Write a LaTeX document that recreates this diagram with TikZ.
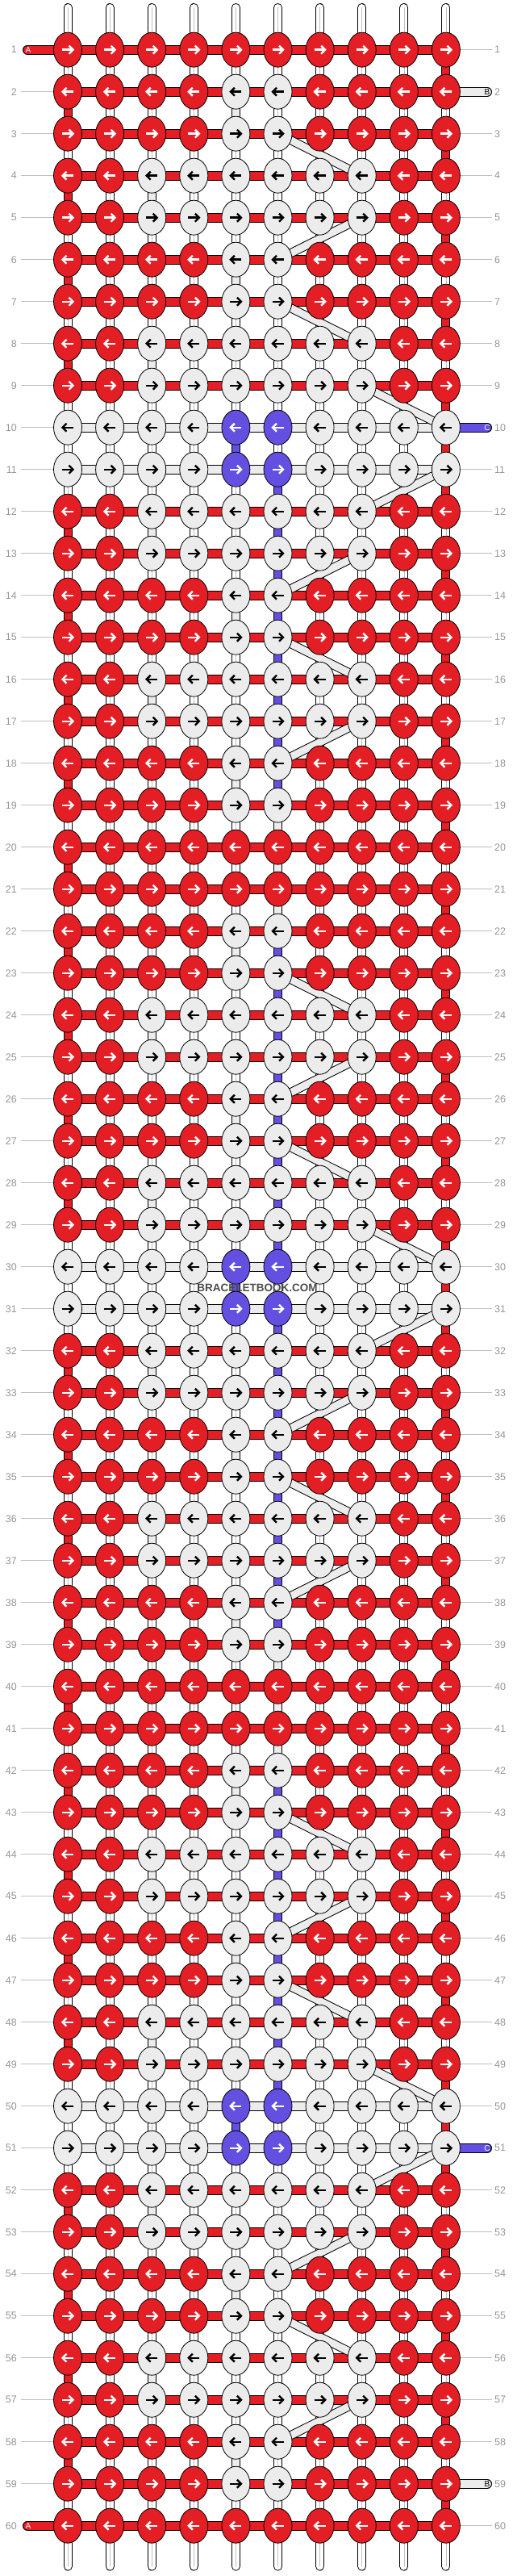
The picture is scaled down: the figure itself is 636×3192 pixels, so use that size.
\documentclass[tikz,border=0pt]{standalone}
\usepackage{fontspec}
\setmainfont{Liberation Sans}
\usetikzlibrary{shapes.geometric,backgrounds,positioning}

\definecolor{strA}{RGB}{228,30,37}
\definecolor{strB}{RGB}{236,236,236}
\definecolor{strC}{RGB}{100,80,224}
\definecolor{rowgray}{RGB}{150,150,150}

\def\patRed{A,A,A,A,A,A,A,A,A,A}
\def\patMid{A,A,A,A,B,B,A,A,A,A}
\def\patWide{A,A,B,B,B,B,B,B,A,A}
\def\patBlue{B,B,B,B,C,C,B,B,B,B}

\begin{document}
\begin{tikzpicture}[x=1pt, y=-1pt,
  knot/.style={ellipse, draw=black, line width=0.8pt, minimum width=35pt, minimum height=43pt, inner sep=0pt},
  kA/.style={fill=strA}, kB/.style={fill=strB}, kC/.style={fill=strC},
  arA/.style={white}, arB/.style={black}, arC/.style={white},
  karrow/.pic={\draw[line width=2.4pt] (-7,0) -- (6,0); \draw[line width=2.4pt] (1.5,-5) -- (6.5,0) -- (1.5,5);},
  band/.style={draw=black, line width=12pt, line cap=round, postaction={draw=#1, line width=10pt}},
  strand/.style={draw=black, line width=11pt, line cap=round, postaction={draw=#1, line width=9pt}},
  seg0/.style={strand=white, postaction={draw=black!25, line width=0.6pt}},
  seg1/.style={strand=strA}, seg2/.style={strand=strB}, seg3/.style={strand=strC},
  hb0/.style={band=strA}, hb1/.style={band=strB},
  rowline/.style={draw=black!25, line width=0.8pt},
  rownum/.style={text=rowgray, font=\fontsize{12.5}{12.5}\selectfont},
  endlabel/.style={font=\fontsize{10}{10}\selectfont, inner sep=0pt}]
\useasboundingbox (0,0) rectangle (636,3192);

% knots, three blocks of twenty rows
\foreach \blk in {0,20,40}{
  \foreach \i/\pat in {1/\patRed,2/\patMid,3/\patMid,4/\patWide,5/\patWide,6/\patMid,7/\patMid,8/\patWide,9/\patWide,10/\patBlue,
                       11/\patBlue,12/\patWide,13/\patWide,14/\patMid,15/\patMid,16/\patWide,17/\patWide,18/\patMid,19/\patMid,20/\patRed}{
    \pgfmathtruncatemacro\r{\blk+\i}
    \pgfmathsetmacro\y{61.7+(\r-1)*52}
    \pgfmathtruncatemacro\dir{mod(\r,2)==1 ? 1 : -1}
    \edef\knots{\pat}
    \foreach \k [count=\c] in \knots{
      \pgfmathsetmacro\x{84+(\c-1)*52.1}
      \node[knot, k\k] (k\r-\c) at (\x,\y) {};
      \pic[ar\k, xscale=\dir] at (k\r-\c) {karrow};
    }
  }
}

\foreach \r in {1,...,60}{
  \pgfmathsetmacro\y{61.7+(\r-1)*52}
  \node[rownum, anchor=east, inner sep=5pt] (nl\r) at (26,\y) {\r};
  \node[rownum, anchor=west, inner sep=3pt] (nr\r) at (610,\y) {\r};
}

\coordinate (endA1) at (34,61.7);
\coordinate (endA60) at (34,3129.7);
\coordinate (endB2) at (604,113.7);
\coordinate (endB59) at (604,3077.7);
\coordinate (endC10) at (604,529.7);
\coordinate (endC51) at (604,2661.7);
\node[endlabel, text=white] (labA1) at (35,61.7) {A};
\node[endlabel, text=white] (labA60) at (35,3129.7) {A};
\node[endlabel, text=black] (labB2) at (604,113.7) {B};
\node[endlabel, text=black] (labB59) at (604,3077.7) {B};
\node[endlabel, text=white] (labC10) at (604,529.7) {C};
\node[endlabel, text=white] (labC51) at (604,2661.7) {C};

\node[font=\bfseries\fontsize{13.5}{13.5}\selectfont, text=black!70] (mark) at (319,1595.7) {BRACELETBOOK.COM};

\begin{scope}[on background layer]
% loose ends at top and bottom
\foreach \c in {1,...,10}{
  \pgfmathsetmacro\x{84+(\c-1)*52.1}
  \coordinate (top\c) at (\x,9.5);
  \coordinate (bot\c) at (\x,3180);
  \draw[seg0] (top\c) -- (k1-\c);
  \draw[seg0] (k60-\c) -- (bot\c);
}
% vertical pieces between rows
\foreach \g in {1,...,59}{
  \pgfmathtruncatemacro\gg{\g+1}
  \pgfmathtruncatemacro\m{mod(\g,20)}
  \foreach \c in {1,...,10}{
    \pgfmathtruncatemacro\isred{(\c==10 && (mod(\g,2)==1 || \m==10)) || (\c==1 && mod(\g,2)==0 && \m!=10)}
    \pgfmathtruncatemacro\isgray{(\c==5 && (\m==2 || \m==6 || \m==14 || \m==18)) || (\c==3 && (\m==4 || \m==8 || \m==12 || \m==16)) || (\c==6 && \g>18 && \g<42 && (\m==19 || \m==0 || \m==1))}
    \pgfmathtruncatemacro\isblue{(\c==5 && \m==10) || (\c==6 && \g>10 && \g<50 && \m!=10 && \m!=19 && \m!=0 && \m!=1)}
    \pgfmathtruncatemacro\vc{\isred+2*\isgray+3*\isblue}
    \draw[seg\vc] (k\g-\c) -- (k\gg-\c);
  }
}
% horizontal pieces
\foreach \r in {1,...,60}{
  \pgfmathtruncatemacro\m{mod(\r,20)}
  \pgfmathtruncatemacro\wb{\m==10 || \m==11}
  \foreach \c [evaluate=\c as \cc using int(\c+1)] in {1,...,9}
    \draw[hb\wb] (k\r-\c) -- (k\r-\cc);
}
% carried strand
\foreach \b in {0,20,40}
  \foreach \ra/\ca/\rb/\cb in {3/6/4/8, 5/8/6/6, 7/6/8/8, 9/8/10/10, 11/10/12/8, 13/8/14/6, 15/6/16/8, 17/8/18/6}{
    \pgfmathtruncatemacro\rr{\b+\ra}
    \pgfmathtruncatemacro\ss{\b+\rb}
    \draw[strand=strB] (k\rr-\ca) -- (k\ss-\cb);
  }
\draw[band=strA] (endA1) -- (k1-1);
\draw[band=strA] (endA60) -- (k60-1);
\draw[band=strB] (k2-10) -- (endB2);
\draw[band=strB] (k59-10) -- (endB59);
\draw[band=strC] (k10-10) -- (endC10);
\draw[band=strC] (k51-10) -- (endC51);
% row lines
\foreach \r in {2,...,59}
  \draw[rowline] (nl\r) -- (k\r-1);
\foreach \r in {1,...,60}{
  \pgfmathtruncatemacro\hasend{\r==2 || \r==10 || \r==51 || \r==59}
  \ifnum\hasend=0 \draw[rowline] (k\r-10) -- (nr\r); \fi
}
\end{scope}
\end{tikzpicture}
\end{document}
